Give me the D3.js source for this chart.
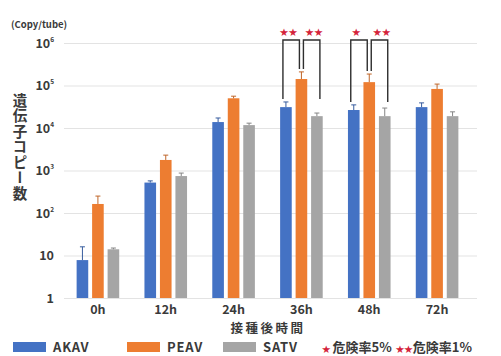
<!DOCTYPE html>
<html>
<head>
<meta charset="utf-8">
<script src="https://cdn.jsdelivr.net/npm/d3@7/dist/d3.min.js"></script>
<style>
  html, body { margin: 0; padding: 0; background: #fff; }
  svg { display: block; }
  text { font-family: "Noto Sans CJK JP", "Noto Sans", sans-serif; font-weight: 700; fill: #3a3a3a; }
</style>
</head>
<body>
<svg id="chart" width="501" height="356"></svg>
<script>
// Hours after inoculation
const groups = ["0h", "12h", "24h", "36h", "48h", "72h"];
const seriesNames = ["AKAV", "PEAV", "SATV"];
const seriesColors = ["#4472C4", "#ED7D31", "#A5A5A5"];

// Mean gene copies per tube
const akav = [7.8, 520, 13800, 31000, 26500, 31000];
const peav = [163, 1770, 50000, 142000, 120000, 83000];
const satv = [14, 740, 11700, 19000, 19000, 19000];

// Upper end of the error bars
const akavHigh = [16, 570, 17200, 41000, 35000, 39000];
const peavHigh = [250, 2300, 56000, 209000, 186000, 108000];
const satvHigh = [15, 870, 13000, 22500, 29500, 24000];

// Y-axis tick values and their exponents
const yTicks = [1, 10, 1e2, 1e3, 1e4, 1e5, 1e6];
const yExponents = ["", "", "2", "3", "4", "5", "6"];

// Significance marks: group, pair compared, stars
const sigGroups = ["36h", "36h", "48h", "48h"];
const sigFrom = ["AKAV", "PEAV", "AKAV", "PEAV"];
const sigTo = ["PEAV", "SATV", "PEAV", "SATV"];
const sigStars = ["★★", "★★", "★", "★★"];

const values = [akav, peav, satv];
const highs = [akavHigh, peavHigh, satvHigh];
const starColor = "#d4233a";

const svg = d3.select("#chart");

const y = d3.scaleLog().domain([1, 1e6]).range([298, 43]);
const x0 = d3.scaleBand().domain(groups).range([64, 471]).paddingInner(0.315).paddingOuter(0.1575);
const x1 = d3.scaleBand().domain(seriesNames).range([0, x0.bandwidth()]).paddingInner(0.25).paddingOuter(0.125);

// Horizontal grid lines
const yAxis = d3.axisLeft(y).tickValues(yTicks).tickSize(-(477 - 64)).tickFormat("");
const gy = svg.append("g").attr("transform", "translate(64,0)").call(yAxis);
gy.select(".domain").remove();
gy.selectAll(".tick line").attr("stroke", "#e3e3e3").attr("stroke-width", 1);

// Y tick labels: 1, 10, 10^2 ... 10^6
const ylab = svg.append("g");
yTicks.forEach((t, i) => {
  const tx = ylab.append("text")
    .attr("x", 54)
    .attr("y", y(t) + 4.5)
    .attr("text-anchor", "end")
    .attr("font-size", 12.5);
  if (yExponents[i]) {
    tx.append("tspan").text("10");
    tx.append("tspan").text(yExponents[i]).attr("font-size", 6.5).attr("dy", -6);
  } else {
    tx.text(t === 1 ? "1" : "10");
  }
});

// Unit label
svg.append("text").attr("x", 11).attr("y", 28).attr("font-size", 9.5).text("(Copy/tube)");

// Vertical axis title
svg.append("text")
  .attr("x", 20).attr("y", 93)
  .attr("font-size", 14.5)
  .style("writing-mode", "vertical-rl")
  .style("text-orientation", "upright")
  .style("letter-spacing", "1px")
  .text("遺伝子コピー数");

// Bars
const gBars = svg.append("g");
groups.forEach((g, gi) => {
  seriesNames.forEach((s, si) => {
    const v = values[si][gi];
    const bx = x0(g) + x1(s);
    gBars.append("rect")
      .attr("x", bx)
      .attr("y", y(v))
      .attr("width", x1.bandwidth())
      .attr("height", y(1) - y(v))
      .attr("fill", seriesColors[si]);
    // error whisker
    const cx = bx + x1.bandwidth() / 2;
    const ec = d3.color(seriesColors[si]).darker(0.6);
    gBars.append("line")
      .attr("x1", cx).attr("x2", cx)
      .attr("y1", y(v)).attr("y2", y(highs[si][gi]))
      .attr("stroke", ec).attr("stroke-width", 1);
    gBars.append("line")
      .attr("x1", cx - 2.5).attr("x2", cx + 2.5)
      .attr("y1", y(highs[si][gi])).attr("y2", y(highs[si][gi]))
      .attr("stroke", ec).attr("stroke-width", 1);
  });
});

// Group labels
groups.forEach(g => {
  svg.append("text")
    .attr("x", x0(g) + x0.bandwidth() / 2)
    .attr("y", 314)
    .attr("text-anchor", "middle")
    .attr("font-size", 12.5)
    .text(g);
});

// X-axis title
svg.append("text")
  .attr("x", 268).attr("y", 333)
  .attr("text-anchor", "middle")
  .attr("font-size", 12.5)
  .style("letter-spacing", "2.5px")
  .text("接種後時間");

// Significance brackets
const center = (g, s) => x0(g) + x1(s) + x1.bandwidth() / 2;
const topY = y(1e6) - 3;
sigGroups.forEach((g, k) => {
  const gi = groups.indexOf(g);
  const a = sigFrom[k], b = sigTo[k];
  // outer series legs stop just above the taller of the outer whiskers
  const sideTop = Math.min(y(akavHigh[gi]), y(satvHigh[gi])) - 3;
  const legEnd = s => s === "PEAV" ? y(peavHigh[gi]) - 3 : sideTop;
  // legs meeting at the middle bar sit side by side; outer legs lean outward
  const shift = s => s === "PEAV" ? (a === "PEAV" ? 2 : -2) : (s === "AKAV" ? -3 : 3);
  const xa = center(g, a) + shift(a);
  const xb = center(g, b) + shift(b);
  svg.append("path")
    .attr("d", `M${xa},${legEnd(a)}V${topY}H${xb}V${legEnd(b)}`)
    .attr("fill", "none")
    .attr("stroke", "#2e2e2e")
    .attr("stroke-width", 1.4);
  const outward = a === "PEAV" ? 2.5 : -2.5;
  svg.append("text")
    .attr("x", (xa + xb) / 2 + outward)
    .attr("y", 34.5)
    .attr("text-anchor", "middle")
    .attr("font-size", 8.5)
    .style("letter-spacing", "0.5px")
    .style("fill", starColor)
    .text(sigStars[k]);
});

// Legend
const legY = 347;
const legendX = [13, 127, 223];
seriesNames.forEach((s, i) => {
  svg.append("rect")
    .attr("x", legendX[i]).attr("y", legY - 5)
    .attr("width", 33).attr("height", 10)
    .attr("fill", seriesColors[i]);
  svg.append("text")
    .attr("x", legendX[i] + 40).attr("y", legY + 5)
    .attr("font-size", 13)
    .style("letter-spacing", "0.8px")
    .text(s);
});
const lg = svg.append("text").attr("x", 322).attr("y", legY + 5).attr("font-size", 13);
lg.append("tspan").text("★").attr("font-size", 8.5).style("fill", starColor);
lg.append("tspan").text("危険率5%").attr("dx", 2);
lg.append("tspan").text("★★").attr("font-size", 8.5).attr("dx", 4).style("fill", starColor);
lg.append("tspan").text("危険率1%");
</script>
</body>
</html>
